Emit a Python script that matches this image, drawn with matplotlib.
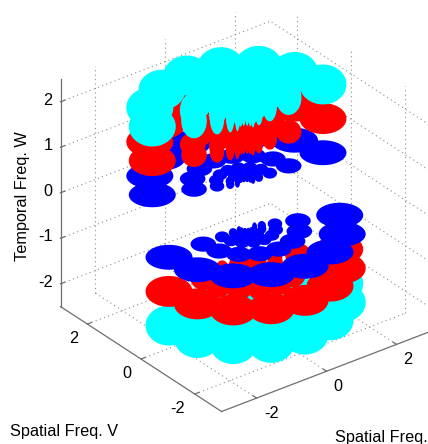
import numpy as np
import matplotlib
matplotlib.use("Agg")
import matplotlib.pyplot as plt
from mpl_toolkits.mplot3d import proj3d
from mpl_toolkits.mplot3d.art3d import Poly3DCollection

# --- data -----------------------------------------------------------------
ring_radius = [2.20, 1.22, 0.68, 0.37, 0.20]
ring_disc_halfwidth = [0.533, 0.29, 0.165, 0.095, 0.055]
orientation_deg = [180, 202.5, 225, 247.5, 270, 292.5, 315, 337.5]
temporal_level = [0.5, 1.25, 2.0]
level_thickness = [0.09, 0.22, 0.355]
level_color = ["#0000ff", "#ff0000", "#00ffff"]
u_ticks = [-2, 0, 2]
v_ticks = [-2, 0, 2]
w_ticks = [-2, -1, 0, 1, 2]
u_lim = (-3, 3)
v_lim = (-3, 3)
w_lim = (-2.5, 2.5)
u_label = "Spatial Freq. U"
v_label = "Spatial Freq. V"
w_label = "Temporal Freq. W"

W, H = 428, 444
plt.rcParams["font.family"] = ["Liberation Sans", "DejaVu Sans"]
fig = plt.figure(figsize=(W / 100, H / 100), dpi=100)
ax = fig.add_axes([0, 0, 1, 1], projection="3d", proj_type="ortho",
                  computed_zorder=False)
ax.set_xlim(*u_lim, view_margin=0)
ax.set_ylim(*v_lim, view_margin=0)
ax.set_zlim(*w_lim, view_margin=0)
ax.set_box_aspect((1, 1, 0.993), zoom=1)
ax.view_init(elev=30, azim=-127.5)
ax.set_axis_off()
ax.patch.set_alpha(0)

TH = np.deg2rad(37.5)
RIGHT = np.array([np.cos(TH), -np.sin(TH), 0.0])
UP = np.array([0.0, 0.0, 1.0])


def screen(p):
    x, y, _ = proj3d.proj_transform(p[0], p[1], p[2], ax.get_proj())
    return ax.transData.transform((x, y))


for _ in range(3):
    fig.canvas.draw()
    left = screen((u_lim[0], v_lim[1], w_lim[0]))
    right = screen((u_lim[1], v_lim[0], w_lim[0]))
    centre = screen((0, 0, 0))
    bb = ax.get_position()
    side_px = bb.width * W
    new_side = side_px * 371.0 / (right[0] - left[0])
    off_x = (centre[0] - (bb.x0 * W + side_px / 2)) * new_side / side_px
    off_y = (centre[1] - (bb.y0 * H + bb.height * H / 2)) * new_side / side_px
    nx = 246.0 - off_x - new_side / 2
    ny = (H - 205.0) - off_y - new_side / 2
    ax.set_position([nx / W, ny / H, new_side / W, new_side / H])
fig.canvas.draw()

grid_kw = dict(color="#8c8c8c", lw=0.8, ls=(0, (1, 3)), zorder=1, clip_on=False)
for t in u_ticks:
    ax.plot([t, t], [v_lim[1], v_lim[1]], w_lim, **grid_kw)
    ax.plot([t, t], v_lim, [w_lim[0], w_lim[0]], **grid_kw)
for t in v_ticks:
    ax.plot([u_lim[1], u_lim[1]], [t, t], w_lim, **grid_kw)
    ax.plot(u_lim, [t, t], [w_lim[0], w_lim[0]], **grid_kw)
for t in w_ticks:
    ax.plot(u_lim, [v_lim[1], v_lim[1]], [t, t], **grid_kw)
    ax.plot([u_lim[1], u_lim[1]], v_lim, [t, t], **grid_kw)

axis_kw = dict(color="#6e6e6e", lw=0.9, zorder=2, clip_on=False)
ax.plot([u_lim[0]] * 2, [v_lim[1]] * 2, w_lim, **axis_kw)
ax.plot([u_lim[0]] * 2, v_lim, [w_lim[0]] * 2, **axis_kw)
ax.plot(u_lim, [v_lim[0]] * 2, [w_lim[0]] * 2, **axis_kw)
for t in u_ticks:
    ax.plot([t, t], [v_lim[0], v_lim[0] + 0.12], [w_lim[0]] * 2, **axis_kw)
for t in v_ticks:
    ax.plot([u_lim[0], u_lim[0] + 0.12], [t, t], [w_lim[0]] * 2, **axis_kw)
for t in w_ticks:
    ax.plot([u_lim[0], u_lim[0] + 0.12], [v_lim[1]] * 2, [t, t], **axis_kw)

marks = []
for w0, thick, col in zip(temporal_level, level_thickness, level_color):
    for r, hw in zip(ring_radius, ring_disc_halfwidth):
        for deg in orientation_deg:
            phi = np.deg2rad(deg)
            u, v = r * np.cos(phi), r * np.sin(phi)
            marks.append((-w0, u, v, hw, thick, col))
            marks.append((w0, -u, -v, hw, thick, col))

far = np.array([np.sin(TH), np.cos(TH)])
marks.sort(key=lambda m: (m[0], -(m[1] * far[0] + m[2] * far[1])))

t = np.linspace(0, 2 * np.pi, 73)[:-1]
for i, (w0, u, v, hw, thick, col) in enumerate(marks):
    half_h = np.hypot(0.485 * hw, thick)
    c = np.array([u, v, w0])
    verts = c + hw * np.outer(np.cos(t), RIGHT) + half_h * np.outer(np.sin(t), UP)
    poly = Poly3DCollection([verts], facecolors=col, edgecolors="none",
                            linewidths=0, zorder=10 + i)
    poly.set_clip_on(False)
    ax.add_collection3d(poly, autolim=False)

FS = 11.7


def tick_text(point, dx, dy, label, ha="center"):
    """Write a tick label at a pixel offset (dy positive = down) from its 3D anchor."""
    px = screen(point)
    fig.text((px[0] + dx) / W, (px[1] - dy) / H, label, fontsize=FS, ha=ha, va="center")


for t_ in v_ticks:
    tick_text((u_lim[0], t_, w_lim[0]), -14 if t_ >= 0 else -17, 14, str(t_))
for t_ in u_ticks:
    tick_text((t_, v_lim[0], w_lim[0]), 11 if t_ >= 0 else 15, 15.5, str(t_))
for t_ in w_ticks:
    tick_text((u_lim[0], v_lim[1], t_), -8, -1.5, str(t_), ha="right")

fig.text(10 / W, 1 - 431 / H, v_label, fontsize=FS, ha="left", va="center")
fig.text(335 / W, 1 - 437 / H, u_label, fontsize=FS, ha="left", va="center")
fig.text(23 / W, 1 - 196 / H, w_label, fontsize=FS, rotation=90, ha="center", va="center")

fig.savefig("out.png", dpi=100, facecolor="white")
